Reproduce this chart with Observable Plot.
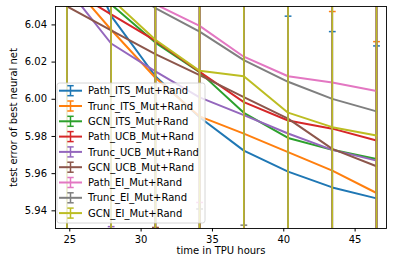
<!DOCTYPE html>
<html>
<head>
<meta charset="utf-8">
<script src="https://cdn.jsdelivr.net/npm/d3@7"></script>
<script src="https://cdn.jsdelivr.net/npm/@observablehq/plot@0.6"></script>
<style>
  html, body { margin: 0; padding: 0; background: white; }
</style>
</head>
<body>
<script>
// ---- data ----
const times = [24.8, 27.9, 31.0, 34.1, 37.2, 40.3, 43.4, 46.5];
const seriesNames = [
  "Path_ITS_Mut+Rand", "Trunc_ITS_Mut+Rand", "GCN_ITS_Mut+Rand",
  "Path_UCB_Mut+Rand", "Trunc_UCB_Mut+Rand", "GCN_UCB_Mut+Rand",
  "Path_EI_Mut+Rand", "Trunc_EI_Mut+Rand", "GCN_EI_Mut+Rand"
];
const seriesColors = ["#1f77b4", "#ff7f0e", "#2ca02c", "#d62728", "#9467bd",
                      "#8c564b", "#e377c2", "#7f7f7f", "#bcbd22"];

const pathITS    = [6.100, 6.0449, 6.0124, 5.9903, 5.9724, 5.9611, 5.9526, 5.9467];
const truncITS   = [6.065, 6.0374, 6.0116, 5.9908, 5.9815, 5.9716, 5.9616, 5.9496];
const gcnITS     = [6.090, 6.0510, 6.0305, 6.0146, 5.9927, 5.9792, 5.9728, 5.9679];
const pathUCB    = [6.060, 6.0457, 6.0315, 6.0148, 5.9985, 5.9886, 5.9842, 5.9778];
const truncUCB   = [6.060, 6.0300, 6.0150, 6.0010, 5.9915, 5.9816, 5.9728, 5.9670];
const gcnUCB     = [6.050, 6.0370, 6.0243, 6.0130, 6.0012, 5.9896, 5.9733, 5.9640];
const pathEI     = [6.080, 6.0650, 6.0511, 6.0395, 6.0229, 6.0124, 6.0090, 6.0045];
const truncEI    = [6.085, 6.0670, 6.0490, 6.0364, 6.0211, 6.0094, 6.0002, 5.9935];
const gcnEI      = [6.080, 6.0540, 6.0320, 6.0153, 6.0124, 5.9928, 5.9850, 5.9805];

const pathITSErr  = [0.18, 0.13, 0.09, 0.085, 0.085, 0.0836, 0.0838, 0.082];
const truncITSErr = [0.15, 0.12, 0.0806, 0.09, 0.09, 0.09, 0.0856, 0.0814];
const gcnITSErr   = [0.17, 0.13, 0.11, 0.10, 0.09, 0.09, 0.09, 0.09];
const pathUCBErr  = [0.14, 0.13, 0.11, 0.10, 0.09, 0.09, 0.09, 0.09];
const truncUCBErr = [0.14, 0.0985, 0.10, 0.09, 0.09, 0.09, 0.09, 0.09];
const gcnUCBErr   = [0.13, 0.12, 0.0933, 0.10, 0.09, 0.09, 0.09, 0.10];
const pathEIErr   = [0.16, 0.15, 0.13, 0.095, 0.11, 0.10, 0.10, 0.10];
const truncEIErr  = [0.17, 0.15, 0.13, 0.0954, 0.0888, 0.10, 0.10, 0.10];
const gcnEIErr    = [0.16, 0.15, 0.15, 0.14, 0.14, 0.13, 0.13, 0.13];

const xTicks = [25, 30, 35, 40, 45];
const yTicks = [5.94, 5.96, 5.98, 6.00, 6.02, 6.04];

const seriesMeans = [pathITS, truncITS, gcnITS, pathUCB, truncUCB, gcnUCB, pathEI, truncEI, gcnEI];
const seriesErrs = [pathITSErr, truncITSErr, gcnITSErr, pathUCBErr, truncUCBErr, gcnUCBErr, pathEIErr, truncEIErr, gcnEIErr];

// ---- build rows ----
const rows = [];
seriesNames.forEach((name, s) => {
  times.forEach((t, i) => {
    const m = seriesMeans[s][i], e = seriesErrs[s][i];
    rows.push({series: name, color: seriesColors[s], x: t, y: m, lo: m - e, hi: m + e});
  });
});

const capSymbol = {
  draw(context, size) {
    const r = Math.sqrt(size / Math.PI);
    context.moveTo(-r, 0);
    context.lineTo(r, 0);
  }
};

const marks = [];
seriesNames.forEach((name, s) => {
  const d = rows.filter(r => r.series === name);
  const c = seriesColors[s];
  marks.push(Plot.line(d, {x: "x", y: "y", stroke: c, strokeWidth: 2, clip: true}));
  marks.push(Plot.ruleX(d, {x: "x", y1: "lo", y2: "hi", stroke: c, strokeWidth: 1.5, clip: true}));
  marks.push(Plot.dot(d, {x: "x", y: "hi", symbol: capSymbol, r: 3.4, fill: "none", stroke: c, strokeWidth: 1.5, clip: true}));
  marks.push(Plot.dot(d, {x: "x", y: "lo", symbol: capSymbol, r: 3.4, fill: "none", stroke: c, strokeWidth: 1.5, clip: true}));
});

const chart = Plot.plot({
  width: 399,
  height: 267,
  marginLeft: 55,
  marginRight: 13,
  marginTop: 6,
  marginBottom: 39,
  style: {fontFamily: "DejaVu Sans", fontSize: "10px", color: "black", background: "white"},
  x: {domain: [24.0, 47.2]},
  y: {domain: [5.9305, 6.0499]},
  marks: [
    ...marks,
    Plot.frame({stroke: "black", strokeWidth: 0.9}),
    Plot.axisX({ticks: xTicks, tickSize: 3.5, tickPadding: 4, label: null, fontSize: 10}),
    Plot.axisY({ticks: yTicks, tickSize: 3.5, tickPadding: 5, label: null, fontSize: 10,
                tickFormat: d => d.toFixed(2)}),
    Plot.text(["time in TPU hours"], {frameAnchor: "bottom", dy: 25, fontSize: 10, fill: "black", textAnchor: "middle"}),
    Plot.text(["test error of best neural net"], {frameAnchor: "left", dx: -42, rotate: -90, fontSize: 10, fill: "black", textAnchor: "middle"})
  ]
});

document.body.appendChild(chart);

// ---- legend (matplotlib style) ----
const svg = d3.select(chart);
const lg = svg.append("g").attr("font-family", "DejaVu Sans").attr("font-size", 10);
const lx = 57, ly = 83, lw = 148, lh = 140;
lg.append("rect").attr("x", lx).attr("y", ly).attr("width", lw).attr("height", lh)
  .attr("rx", 2.5).attr("fill", "white").attr("fill-opacity", 0.8)
  .attr("stroke", "#cccccc").attr("stroke-width", 0.8);
seriesNames.forEach((name, i) => {
  const cy = 90.7 + i * 15.3;
  const c = seriesColors[i];
  const g = lg.append("g");
  g.append("line").attr("x1", 59).attr("x2", 82).attr("y1", cy).attr("y2", cy)
    .attr("stroke", c).attr("stroke-width", 2);
  g.append("line").attr("x1", 70.5).attr("x2", 70.5).attr("y1", cy - 5).attr("y2", cy + 5)
    .attr("stroke", c).attr("stroke-width", 1.5);
  g.append("line").attr("x1", 67.3).attr("x2", 73.7).attr("y1", cy - 5).attr("y2", cy - 5)
    .attr("stroke", c).attr("stroke-width", 1.5);
  g.append("line").attr("x1", 67.3).attr("x2", 73.7).attr("y1", cy + 5).attr("y2", cy + 5)
    .attr("stroke", c).attr("stroke-width", 1.5);
  g.append("text").attr("x", 88).attr("y", cy).attr("dy", "0.36em")
    .attr("text-anchor", "start").attr("fill", "black").text(name);
});
</script>
</body>
</html>
